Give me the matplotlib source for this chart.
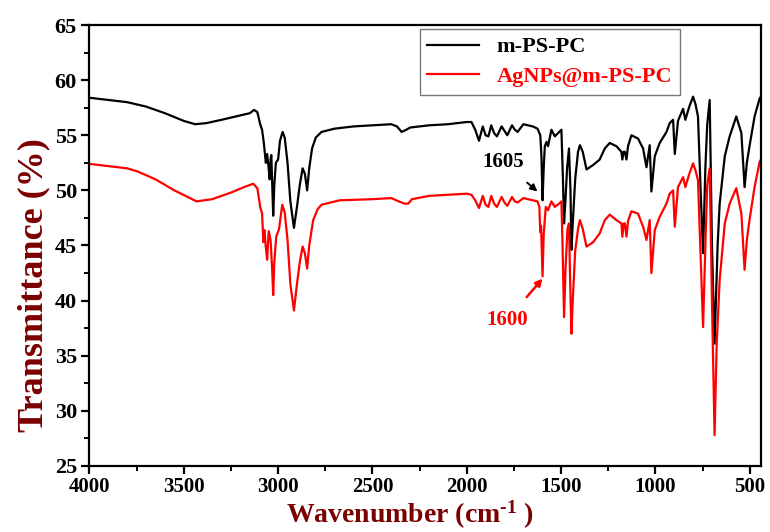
import matplotlib
matplotlib.use("Agg")
import matplotlib.pyplot as plt
from matplotlib.ticker import MultipleLocator

plt.rcParams["font.family"] = ["Liberation Serif", "DejaVu Serif"]
plt.rcParams["font.weight"] = "bold"
plt.rcParams["mathtext.fontset"] = "custom"
plt.rcParams["mathtext.rm"] = "Liberation Serif:bold"
plt.rcParams["mathtext.it"] = "Liberation Serif:bold"
plt.rcParams["mathtext.bf"] = "Liberation Serif:bold"

C_RED, C_LABEL = "#ff0000", "#7b0000"

# m-PS-PC
wn_ps = [4000, 3900, 3800, 3700, 3600, 3500, 3440, 3380, 3300, 3200, 3150, 3128,
         3110, 3095, 3085, 3075, 3065, 3058, 3050, 3045, 3040, 3036, 3030, 3026,
         3020, 3012, 3000, 2990, 2976, 2965, 2950, 2935, 2916, 2900, 2885, 2870,
         2858, 2846, 2835, 2820, 2800, 2770, 2700, 2600, 2500, 2400, 2370, 2345,
         2320, 2300, 2200, 2100, 2000, 1975, 1955, 1935, 1915, 1900, 1885, 1870,
         1855, 1840, 1815, 1800, 1785, 1760, 1745, 1730, 1700, 1650, 1625, 1610,
         1604, 1598, 1592, 1586, 1577, 1569, 1551, 1533, 1510, 1498, 1490, 1484,
         1477, 1468, 1458, 1450, 1445, 1438, 1425, 1410, 1400, 1385, 1365, 1330,
         1295, 1268, 1242, 1206, 1180, 1175, 1168, 1162, 1153, 1145, 1127, 1092,
         1065, 1047, 1030, 1021, 1003, 977, 941, 924, 906, 897, 880, 853, 841,
         820, 800, 787, 774, 760, 747, 735, 725, 712, 700, 686, 678, 670, 659,
         632, 606, 571, 544, 527, 515, 501, 474, 447, 440]
t_ps = [58.4, 58.2, 58.0, 57.6, 57.0, 56.3, 56.0, 56.1, 56.4, 56.8, 57.0, 57.3,
        57.1, 56.0, 55.5, 54.2, 52.5, 53.3, 52.0, 51.0, 52.8, 53.2, 50.0, 47.7,
        50.5, 52.5, 52.8, 54.5, 55.3, 54.8, 52.5, 49.0, 46.6, 48.5, 50.5, 52.0,
        51.5, 50.0, 52.0, 53.8, 54.8, 55.3, 55.6, 55.8, 55.9, 56.0, 55.8, 55.3,
        55.5, 55.7, 55.9, 56.0, 56.2, 56.2, 55.5, 54.5, 55.8, 55.0, 54.9, 55.9,
        55.2, 54.9, 55.8, 55.4, 55.0, 55.9, 55.5, 55.3, 56.0, 55.8, 55.6, 55.0,
        53.1, 49.1, 52.0, 54.0, 54.4, 54.0, 55.5, 54.9, 55.3, 55.5, 51.0, 47.0,
        49.0, 52.0, 53.8, 50.0, 44.6, 47.0, 51.0, 53.5, 54.1, 53.5, 51.9, 52.3,
        52.8, 53.8, 54.3, 54.0, 53.5, 52.8, 53.5, 53.5, 52.8, 54.0, 55.0, 54.7,
        53.8, 52.1, 54.1, 49.9, 53.1, 54.3, 55.3, 56.1, 56.4, 53.3, 56.3, 57.4, 56.4,
        57.6, 58.5, 57.8, 56.7, 50.0, 44.3, 52.0, 56.0, 58.2, 45.0, 36.1, 40.5, 45.0, 48.8,
        53.1, 54.9, 56.7, 55.2, 50.3, 52.5, 54.0, 56.7, 58.35, 58.5]

# AgNPs@m-PS-PC
wn_ag = [4000, 3900, 3800, 3743, 3650, 3550, 3432, 3350, 3250, 3180, 3132, 3110,
         3095, 3085, 3078, 3072, 3066, 3058, 3050, 3040, 3032, 3026, 3020, 3010,
         2995, 2978, 2965, 2950, 2935, 2916, 2900, 2885, 2870, 2858, 2846, 2835,
         2814, 2790, 2770, 2673, 2500, 2400, 2360, 2330, 2310, 2290, 2200, 2100,
         2000, 1975, 1955, 1935, 1915, 1900, 1885, 1870, 1855, 1840, 1815, 1800,
         1785, 1760, 1745, 1730, 1700, 1650, 1625, 1615, 1610, 1606, 1598, 1592,
         1581, 1569, 1551, 1533, 1510, 1498, 1492, 1484, 1476, 1466, 1458, 1452,
         1445, 1438, 1425, 1410, 1400, 1385, 1365, 1330, 1295, 1268, 1242, 1206,
         1180, 1175, 1168, 1162, 1153, 1145, 1127, 1092, 1065, 1047, 1030, 1021,
         1003, 977, 941, 924, 906, 897, 880, 853, 841, 820, 800, 787, 774, 760,
         747, 735, 725, 712, 700, 686, 675, 659, 632, 606, 571, 544, 527, 515,
         501, 474, 447, 440]
t_ag = [52.4, 52.2, 52.0, 51.7, 51.0, 50.0, 49.0, 49.2, 49.8, 50.3, 50.6, 50.2,
        48.5, 47.9, 45.3, 46.4, 45.0, 43.7, 46.3, 45.5, 43.0, 40.5, 43.5, 45.8,
        46.5, 48.7, 48.0, 45.5, 41.5, 39.1, 41.5, 43.5, 44.9, 44.3, 42.9, 45.0,
        47.3, 48.3, 48.7, 49.1, 49.2, 49.3, 49.0, 48.8, 48.8, 49.2, 49.5, 49.6,
        49.7, 49.6, 49.1, 48.4, 49.5, 48.7, 48.5, 49.5, 48.8, 48.5, 49.4, 48.9,
        48.6, 49.4, 49.0, 48.9, 49.3, 49.1, 49.0, 48.5, 46.2, 46.8, 42.2, 46.0,
        48.5, 48.2, 49.0, 48.5, 48.8, 49.0, 45.0, 38.5, 43.0, 46.5, 47.0, 42.0,
        37.0, 40.0, 44.5, 46.5, 47.3, 46.5, 44.9, 45.3, 46.1, 47.3, 47.8, 47.3,
        47.0, 45.8, 47.0, 47.0, 45.8, 47.2, 48.1, 47.9, 46.7, 45.5, 47.3, 42.5,
        46.4, 47.6, 48.8, 49.7, 50.0, 46.7, 50.3, 51.2, 50.3, 51.5, 52.45, 51.8, 50.9, 44.0,
        37.6, 45.0, 50.5, 52.0, 40.0, 27.8, 36.0, 41.9, 47.0, 48.8, 50.2, 47.9, 42.8, 45.5,
        47.3, 50.3, 52.6, 52.8]

fig = plt.figure(figsize=(7.7, 5.32), dpi=100)
ax = fig.add_axes([0.1162, 0.1241, 0.8721, 0.8289])
ax.plot(wn_ps, t_ps, color="black", lw=1.6, label="m-PS-PC")
ax.plot(wn_ag, t_ag, color=C_RED, lw=1.6, label="AgNPs@m-PS-PC")

ax.set_xlim(4000, 440)
ax.set_ylim(25, 65)
ax.xaxis.set_major_locator(MultipleLocator(500))
ax.xaxis.set_minor_locator(MultipleLocator(250))
ax.yaxis.set_major_locator(MultipleLocator(5))
ax.yaxis.set_minor_locator(MultipleLocator(2.5))
ax.tick_params(which="major", direction="out", length=6, width=1.6,
               top=False, right=False)
ax.tick_params(which="minor", direction="out", length=3.5, width=1.4,
               top=False, right=False)
ax.tick_params(axis="x", labelsize=15, pad=2)
ax.tick_params(axis="y", labelsize=16, pad=3)
for s in ax.spines.values():
    s.set_linewidth(1.6)
for lab in ax.get_xticklabels() + ax.get_yticklabels():
    lab.set_fontweight("bold")

# x label placed on the figure so it sits right at the bottom edge
fig.text(0.532, 0.002, r"Wavenumber (cm$^{\text{-1}}$ )", fontsize=20,
         fontweight="bold", color=C_LABEL, ha="center", va="bottom")
ax.set_ylabel("Transmittance (%)", fontsize=26, fontweight="bold",
              color=C_LABEL, labelpad=3, y=0.41)

leg = ax.legend(loc="upper right", bbox_to_anchor=(0.879, 0.991), fontsize=16,
                frameon=True, fancybox=False, edgecolor="#555555",
                handlelength=2.3, borderpad=0.35, labelspacing=0.4,
                borderaxespad=0)
leg.get_frame().set_linewidth(1.0)
for txt, col in zip(leg.get_texts(), ["black", C_RED]):
    txt.set_color(col)
    txt.set_fontweight("bold")

ax.annotate("1605", xy=(1625, 49.9), xytext=(1809, 52.6), fontsize=15,
            fontweight="bold", color="black", ha="center", va="center",
            arrowprops=dict(arrowstyle="-|>", color="black", lw=1.4,
                            mutation_scale=10, shrinkA=9, shrinkB=0))
ax.annotate("1600", xy=(1598, 42.0), xytext=(1788, 38.2), fontsize=15,
            fontweight="bold", color=C_RED, ha="center", va="center",
            arrowprops=dict(arrowstyle="-|>", color=C_RED, lw=1.8,
                            mutation_scale=10, shrinkA=10, shrinkB=0))

fig.savefig("out.png", dpi=100)
